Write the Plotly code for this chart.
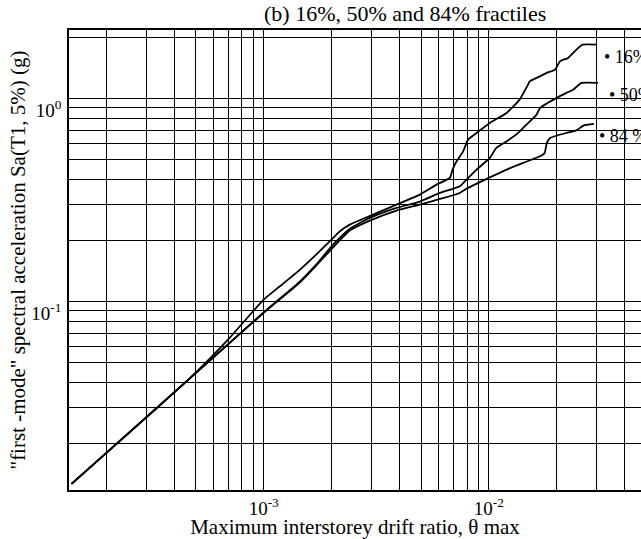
import numpy as np
import plotly.graph_objects as go

# fractile curves (drift ratio, Sa in g)
x16 = [1.40e-4, 4.69e-4, 6.94e-4, 1.00e-3, 1.18e-3, 1.45e-3, 1.71e-3, 2.00e-3, 2.18e-3, 2.41e-3,
       3.06e-3, 3.89e-3, 4.94e-3, 5.86e-3, 6.71e-3, 6.90e-3, 7.19e-3, 7.69e-3, 8.09e-3, 8.82e-3,
       1.01e-2, 1.20e-2, 1.37e-2, 1.48e-2, 1.52e-2, 1.63e-2, 1.81e-2, 1.97e-2, 2.07e-2, 2.25e-2,
       2.45e-2, 2.61e-2, 3.03e-2]
y16 = [0.01265, 0.0419, 0.0650, 0.1023, 0.119, 0.1438, 0.1704, 0.2020, 0.222, 0.2395,
       0.2683, 0.3005, 0.3366, 0.3771, 0.4069, 0.4469, 0.4912, 0.5501, 0.628, 0.6776,
       0.7591, 0.8502, 0.9887, 1.150, 1.217, 1.265, 1.339, 1.389, 1.526, 1.586,
       1.743, 1.845, 1.845]

x50 = [1.40e-4, 9.93e-4, 1.45e-3, 1.71e-3, 2.00e-3, 2.18e-3, 2.41e-3, 2.96e-3, 3.89e-3, 4.94e-3,
       6.06e-3, 7.43e-3, 7.96e-3, 8.82e-3, 1.01e-2, 1.08e-2, 1.20e-2, 1.35e-2, 1.47e-2, 1.63e-2,
       1.69e-2, 2.00e-2, 2.21e-2, 2.37e-2, 2.58e-2, 3.06e-2]
y50 = [0.01265, 0.0880, 0.1259, 0.1521, 0.1873, 0.2067, 0.2289, 0.2584, 0.2894, 0.311,
       0.343, 0.3698, 0.399, 0.4469, 0.5105, 0.5717, 0.616, 0.6776, 0.7446, 0.834,
       0.9, 1.008, 1.067, 1.107, 1.195, 1.195]

x84 = [1.40e-4, 9.93e-4, 1.45e-3, 1.71e-3, 2.00e-3, 2.41e-3, 2.96e-3, 3.89e-3, 4.94e-3, 6.06e-3,
       7.43e-3, 7.82e-3, 1.00e-2, 1.20e-2, 1.42e-2, 1.69e-2, 1.77e-2, 1.81e-2, 1.87e-2, 2.21e-2,
       2.45e-2, 2.63e-2, 2.93e-2]
y84 = [0.01265, 0.0875, 0.1245, 0.1504, 0.1814, 0.2238, 0.2506, 0.2807, 0.3005, 0.3205,
       0.343, 0.356, 0.4069, 0.4469, 0.4825, 0.5196, 0.54, 0.605, 0.640, 0.6776,
       0.698, 0.736, 0.750]

labels = ["\u2022 16%", "\u2022 50%", "\u2022 84 %"]
label_x = [0.0318, 0.0336, 0.03035]
label_y = [1.61, 1.046, 0.653]

# decade ticks get labels, 2..9 only get a grid line
xticks = [1e-3, 1e-2]
xticktext = ["10<sup>-3</sup>", "10<sup>-2</sup>"]
yticks = [1e-1, 1e0]
yticktext = ["10<sup>-1</sup>", "10<sup>0</sup>"]
xminor = [m * 10.0 ** e for e in (-4, -3, -2) for m in range(2, 10)]
yminor = [m * 10.0 ** e for e in (-2, -1, 0) for m in range(2, 10)]

font = "Liberation Serif, Times New Roman, serif"

fig = go.Figure()
for xs, ys in [(x16, y16), (x50, y50), (x84, y84)]:
    fig.add_trace(go.Scatter(x=xs, y=ys, mode="lines",
                             line=dict(color="black", width=1.8, shape="spline", smoothing=0.5),
                             showlegend=False))

for t, lx, ly in zip(labels, label_x, label_y):
    fig.add_annotation(x=np.log10(lx), y=np.log10(ly), text=t, showarrow=False,
                       xanchor="left", yanchor="middle", font=dict(size=18, color="black"))

fig.update_xaxes(type="log", range=[-3.865, -1.324], tickvals=xticks, ticktext=xticktext,
                 showgrid=True, gridcolor="black", gridwidth=1.2, zeroline=False,
                 minor=dict(tickvals=xminor, showgrid=True, gridcolor="black", gridwidth=1.2),
                 showline=True, linecolor="black", linewidth=1.5, mirror=True,
                 ticks="", tickfont=dict(size=19), ticklabelstandoff=0,
                 title=dict(text="Maximum interstorey drift ratio, \u03b8 max", font=dict(size=21),
                            standoff=0))
fig.update_yaxes(type="log", range=[-1.928, 0.338], tickvals=yticks, ticktext=yticktext,
                 showgrid=True, gridcolor="black", gridwidth=1.2, zeroline=False,
                 minor=dict(tickvals=yminor, showgrid=True, gridcolor="black", gridwidth=1.2),
                 showline=True, linecolor="black", linewidth=1.5, mirror=False,
                 ticks="", tickfont=dict(size=19), ticklabelshift=12, ticklabelstandoff=2,
                 title=dict(text="\"first -mode\" spectral acceleration Sa(T1, 5%) (g)",
                            font=dict(size=21), standoff=0))

fig.update_layout(
    width=641, height=539,
    margin=dict(l=69, r=0, t=30, b=49, autoexpand=False),
    paper_bgcolor="white", plot_bgcolor="white",
    font=dict(family=font, color="black"),
    title=dict(text="(b) 16%, 50% and 84% fractiles", x=0.632, xanchor="center",
               y=0.976, yanchor="middle", font=dict(size=22)),
)

# page margin off so the 641x539 figure fills the window exactly
fig.write_html("out.html", config={"displayModeBar": False},
               post_script="document.body.style.margin='0';")
